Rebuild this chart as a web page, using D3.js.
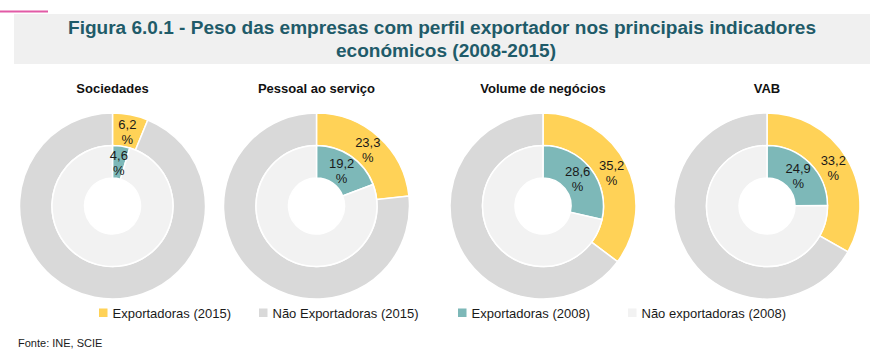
<!DOCTYPE html>
<html>
<head>
<meta charset="utf-8">
<script src="https://cdn.jsdelivr.net/npm/d3@7"></script>
<style>
html,body{margin:0;padding:0;background:#fff;}
svg{display:block;}
</style>
</head>
<body>
<svg id="chart" width="880" height="355"></svg>
<script>
// ---- data ----
const titleLines = ["Figura 6.0.1 - Peso das empresas com perfil exportador nos principais indicadores", "económicos (2008-2015)"];
const categories = ["Sociedades", "Pessoal ao serviço", "Volume de negócios", "VAB"];
const exportadoras2015 = [6.2, 23.3, 35.2, 33.2];
const exportadoras2008 = [4.6, 19.2, 28.6, 24.9];
const legendLabels = ["Exportadoras (2015)", "Não Exportadoras (2015)", "Exportadoras (2008)", "Não exportadoras (2008)"];
const legendColors = ["#FFD257", "#D9D9D9", "#7DB8B8", "#F2F2F2"];
const sourceText = "Fonte: INE, SCIE";

// ---- layout ----
const svg = d3.select("#chart");
const centersX = [112.5, 316.5, 543, 767];
const cy = 206;
const rOuter = 93, rMid = 60.5, rHole = 28;

// header
svg.append("rect").attr("x", 0).attr("y", 10.5).attr("width", 48).attr("height", 2).attr("fill", "#E25AA6");
svg.append("rect").attr("x", 14).attr("y", 14).attr("width", 856).attr("height", 50).attr("fill", "#F0F0F0");
const tFont = "'Liberation Sans Narrow','Arial Narrow','Liberation Sans',Arial,sans-serif";
svg.append("text").attr("x", 442).attr("y", 34).attr("text-anchor", "middle")
  .attr("font-family", tFont).attr("font-weight", "bold").attr("font-size", 18).attr("fill", "#1F5B69")
  .attr("textLength", 748).attr("lengthAdjust", "spacingAndGlyphs").text(titleLines[0]);
svg.append("text").attr("x", 446).attr("y", 57).attr("text-anchor", "middle")
  .attr("font-family", tFont).attr("font-weight", "bold").attr("font-size", 18).attr("fill", "#1F5B69")
  .attr("textLength", 220).attr("lengthAdjust", "spacingAndGlyphs").text(titleLines[1]);

const font = "'Liberation Sans',Arial,Helvetica,sans-serif";
const pie = d3.pie().sort(null).value(d => d);
const arcOuter = d3.arc().innerRadius(rMid).outerRadius(rOuter);
const arcInner = d3.arc().innerRadius(rHole).outerRadius(rMid);

categories.forEach((cat, i) => {
  const g = svg.append("g").attr("transform", `translate(${centersX[i]},${cy})`);
  svg.append("text").attr("x", centersX[i]).attr("y", 93).attr("text-anchor", "middle")
    .attr("font-family", font).attr("font-weight", "bold").attr("font-size", 13).attr("fill", "#111").text(cat);

  const outerData = pie([exportadoras2015[i], 100 - exportadoras2015[i]]);
  const innerData = pie([exportadoras2008[i], 100 - exportadoras2008[i]]);

  g.selectAll("path.outer").data(outerData).join("path").attr("class", "outer")
    .attr("d", arcOuter).attr("fill", (d, j) => j === 0 ? legendColors[0] : legendColors[1])
    .attr("stroke", "#fff").attr("stroke-width", 1.5);
  g.selectAll("path.inner").data(innerData).join("path").attr("class", "inner")
    .attr("d", arcInner).attr("fill", (d, j) => j === 0 ? legendColors[2] : legendColors[3])
    .attr("stroke", "#fff").attr("stroke-width", 1.5);

  const addLabel = (arc, d, v) => {
    const [x, y] = arc.centroid(d);
    const t = g.append("text").attr("text-anchor", "middle").attr("font-family", font)
      .attr("font-size", 13).attr("fill", "#1a1a1a");
    t.append("tspan").attr("x", x).attr("y", y - 2).text(String(v.toFixed(1)).replace(".", ","));
    t.append("tspan").attr("x", x).attr("y", y + 13).text("%");
  };
  addLabel(arcOuter, outerData[0], exportadoras2015[i]);
  addLabel(arcInner, innerData[0], exportadoras2008[i]);
});

// legend
const legX = [99, 259, 458, 628];
legendLabels.forEach((lab, i) => {
  svg.append("rect").attr("x", legX[i]).attr("y", 308.5).attr("width", 8.5).attr("height", 8.5).attr("fill", legendColors[i]);
  svg.append("text").attr("x", legX[i] + 13.5).attr("y", 318).attr("font-family", font)
    .attr("font-size", 13).attr("fill", "#1a1a1a").text(lab);
});

svg.append("text").attr("x", 18).attr("y", 347).attr("font-family", font).attr("font-size", 11)
  .attr("fill", "#1a1a1a").text(sourceText);
</script>
</body>
</html>
